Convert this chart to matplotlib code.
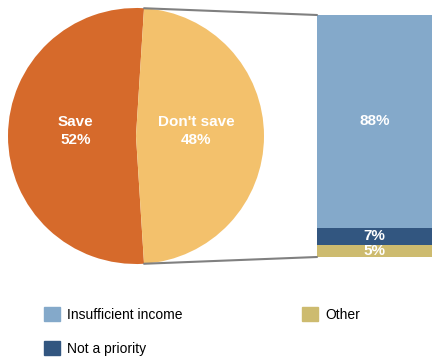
import numpy as np
import matplotlib
matplotlib.use("Agg")
from matplotlib import pyplot as plt
from matplotlib.patches import ConnectionPatch, Patch

pie_labels = ["Save", "Don't save"]
pie_values = [52, 48]
pie_colors = ["#D66A2B", "#F3C16C"]

reason_labels = ["Insufficient income", "Not a priority", "Other"]
reason_values = [88, 7, 5]
reason_colors = ["#84A9CA", "#325680", "#CDBB6F"]

W, H = 432, 360
fig = plt.figure(figsize=(W / 100, H / 100), dpi=100)
bold_font = ["Liberation Sans Narrow", "Liberation Sans", "DejaVu Sans"]

# pie on the left, "Save" wedge centred on the left side
ax_pie = fig.add_axes([8 / W, (H - 264) / H, 256 / W, 256 / H])
start = 90 - (pie_values[0] - 50) / 100 * 360 / 2
wedges, texts = ax_pie.pie(
    pie_values,
    labels=[f"{l}\n{v}%" for l, v in zip(pie_labels, pie_values)],
    colors=pie_colors,
    startangle=start,
    labeldistance=0.47,
    textprops=dict(color="white", fontweight="bold", fontsize=11,
                   ha="center", va="center", family=bold_font,
                   linespacing=1.4),
    wedgeprops=dict(linewidth=0),
)
for t in texts:
    x, y = t.get_position()
    t.set_position((x, y + 0.04))
ax_pie.set_xlim(-1, 1)
ax_pie.set_ylim(-1, 1)
ax_pie.set_aspect("auto")
ax_pie.axis("off")

# stacked bar on the right
ax_bar = fig.add_axes([317 / W, (H - 257) / H, (W - 317) / W, 242 / H])
bottom = 100
for val, col in zip(reason_values, reason_colors):
    bottom -= val
    bars = ax_bar.bar(0, val, bottom=bottom, width=1, color=col, linewidth=0)
    ax_bar.bar_label(bars, labels=[f"{val}%"], label_type="center",
                     color="white", fontweight="bold", fontsize=11,
                     family=bold_font)
ax_bar.set_xlim(-0.5, 0.5)
ax_bar.set_ylim(0, 100)
ax_bar.axis("off")

# connecting lines
w = wedges[0]
for ang, y in [(w.theta1, 100), (w.theta2, 0)]:
    pt = (np.cos(np.radians(ang)), np.sin(np.radians(ang)))
    con = ConnectionPatch(xyA=pt, coordsA=ax_pie.transData,
                          xyB=(-0.5, y), coordsB=ax_bar.transData,
                          color="#808080", linewidth=1.5)
    fig.add_artist(con)

handles = [Patch(color=c) for c in reason_colors]
fig.legend(handles, reason_labels, ncol=2, frameon=False,
           loc="lower left", bbox_to_anchor=(38 / W, -0.004),
           prop=dict(family="Liberation Sans", size=10),
           handlelength=1.15, handleheight=1.15, handletextpad=0.55,
           columnspacing=8.6, labelspacing=1.4, borderaxespad=0.0)

fig.savefig("out.png", dpi=100)
